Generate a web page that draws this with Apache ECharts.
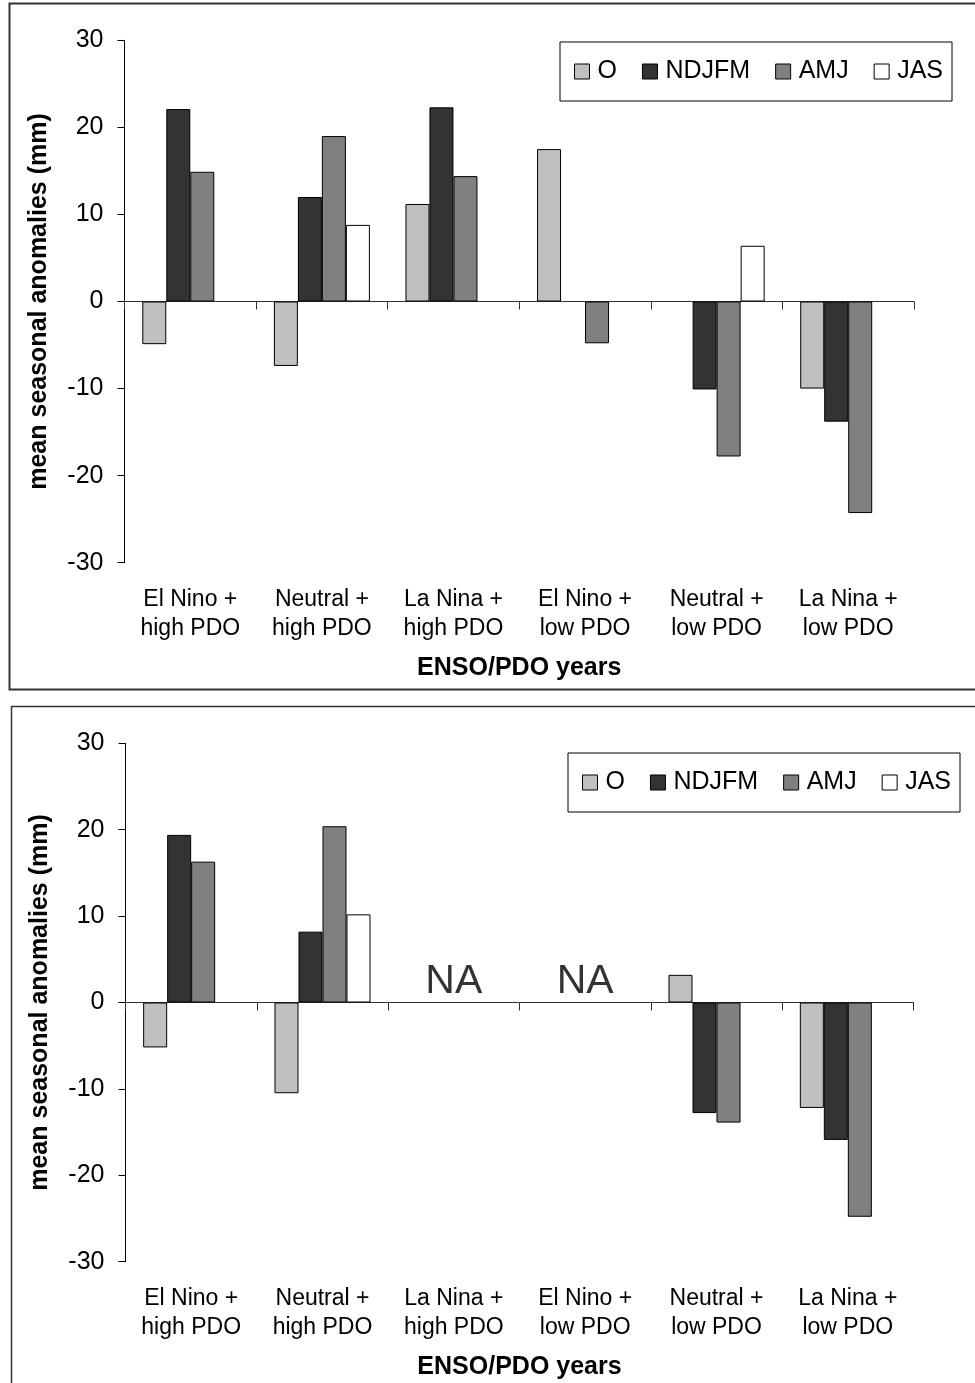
<!DOCTYPE html>
<html>
<head>
<meta charset="utf-8">
<script src="https://cdn.jsdelivr.net/npm/echarts@6/dist/echarts.min.js"></script>
<style>
html,body{margin:0;padding:0;background:#fff;}
#c{width:975px;height:1383px;}
</style>
</head>
<body>
<div id="c"></div>
<script>
// Categories and tick labels
const categories = ['El Nino +\nhigh PDO', 'Neutral +\nhigh PDO', 'La Nina +\nhigh PDO', 'El Nino +\nlow PDO', 'Neutral +\nlow PDO', 'La Nina +\nlow PDO'];
const seriesNames = ['O', 'NDJFM', 'AMJ', 'JAS'];
const seriesColors = ['#c0c0c0', '#333333', '#808080', '#ffffff'];
const yTicks = [-30, -20, -10, 0, 10, 20, 30];

// Top panel values (mm)
const topO     = [-4.9, -7.4, 11.2, 17.5, null, -10.0];
const topNDJFM = [22.1, 12.0, 22.3, null, -10.1, -13.8];
const topAMJ   = [14.9, 19.0, 14.4, -4.8, -17.8, -24.3];
const topJAS   = [null, 8.8, null, null, 6.4, null];

// Bottom panel values (mm)
const botO     = [-5.2, -10.5, null, null, 3.2, -12.2];
const botNDJFM = [19.4, 8.2, null, null, -12.8, -15.9];
const botAMJ   = [16.3, 20.4, null, null, -13.9, -24.8];
const botJAS   = [null, 10.2, null, null, null, null];

// Categories without data in the bottom panel
const naCategories = ['La Nina +\nhigh PDO', 'El Nino +\nlow PDO'];

const FONT = '"Liberation Sans", Arial, sans-serif';
const chart = echarts.init(document.getElementById('c'), null, {renderer: 'canvas'});

function xAxes(gridIndex) {
  return [
    {
      type: 'category', gridIndex: gridIndex, data: categories,
      axisLine: {onZero: true, lineStyle: {color: '#333', width: 1}},
      axisTick: {show: true, length: 8, lineStyle: {color: '#333', width: 1}},
      axisLabel: {show: false}
    },
    {
      type: 'category', gridIndex: gridIndex, data: categories, position: 'bottom',
      axisLine: {show: false, onZero: false},
      axisTick: {show: false},
      axisLabel: {show: true, color: '#000', fontFamily: FONT, fontSize: 23, lineHeight: 29, margin: 22, interval: 0},
      name: 'ENSO/PDO years', nameLocation: 'middle', nameGap: 93,
      nameTextStyle: {color: '#000', fontFamily: FONT, fontSize: 25, fontWeight: 'bold'}
    }
  ];
}

function yAxis(gridIndex) {
  return {
    type: 'value', gridIndex: gridIndex, min: yTicks[0], max: yTicks[yTicks.length - 1], interval: 10,
    axisLine: {show: true, lineStyle: {color: '#000', width: 1}},
    axisTick: {show: true, length: 7, lineStyle: {color: '#000'}},
    axisLabel: {color: '#000', fontFamily: FONT, fontSize: 25, margin: 21},
    splitLine: {show: false},
    name: 'mean seasonal anomalies (mm)', nameLocation: 'middle', nameGap: 73,
    nameTextStyle: {color: '#000', fontFamily: FONT, fontSize: 25, fontWeight: 'bold'}
  };
}

function bars(values, xIdx, yIdx) {
  return values.map((vals, i) => ({
    name: seriesNames[i], type: 'bar', xAxisIndex: xIdx, yAxisIndex: yIdx,
    data: vals, barWidth: 24, barGap: '0%',
    itemStyle: {color: seriesColors[i], borderColor: '#000', borderWidth: 1},
    emphasis: {disabled: true}, animation: false
  }));
}

function legend(left, top) {
  return {
    data: seriesNames, left: left, top: top, orient: 'horizontal',
    padding: [17, 9, 17, 14], itemGap: 25, itemWidth: 15, itemHeight: 15,
    icon: 'rect', borderColor: '#000', borderWidth: 1,
    itemStyle: {borderColor: '#000', borderWidth: 1},
    textStyle: {color: '#000', fontFamily: FONT, fontSize: 25, padding: [0, 0, 0, 3]},
    selectedMode: false
  };
}

const option = {
  backgroundColor: '#fff',
  animation: false,
  graphic: [
    {type: 'rect', shape: {x: 9.5, y: 3.5, width: 1000, height: 686}, style: {fill: 'none', stroke: '#333', lineWidth: 2}, silent: true},
    {type: 'rect', shape: {x: 11.5, y: 706.5, width: 1000, height: 700}, style: {fill: 'none', stroke: '#333', lineWidth: 1.5}, silent: true}
  ],
  legend: [legend(560, 42), legend(568, 753)],
  grid: [
    {left: 124.5, top: 40.3, width: 789.5, height: 522.4, containLabel: false},
    {left: 125.5, top: 743.3, width: 788, height: 518.4, containLabel: false}
  ],
  xAxis: [...xAxes(0), ...xAxes(1)],
  yAxis: [yAxis(0), yAxis(1)],
  series: [
    ...bars([topO, topNDJFM, topAMJ, topJAS], 0, 0),
    ...bars([botO, botNDJFM, botAMJ, botJAS], 2, 1),
    {
      type: 'scatter', xAxisIndex: 2, yAxisIndex: 1, symbolSize: 0,
      data: naCategories.map(c => [c, 0]),
      label: {show: true, position: 'top', distance: 0, formatter: 'NA', color: '#000', fontFamily: FONT, fontSize: 41},
      silent: true, animation: false
    }
  ]
};
chart.setOption(option);
</script>
</body>
</html>
